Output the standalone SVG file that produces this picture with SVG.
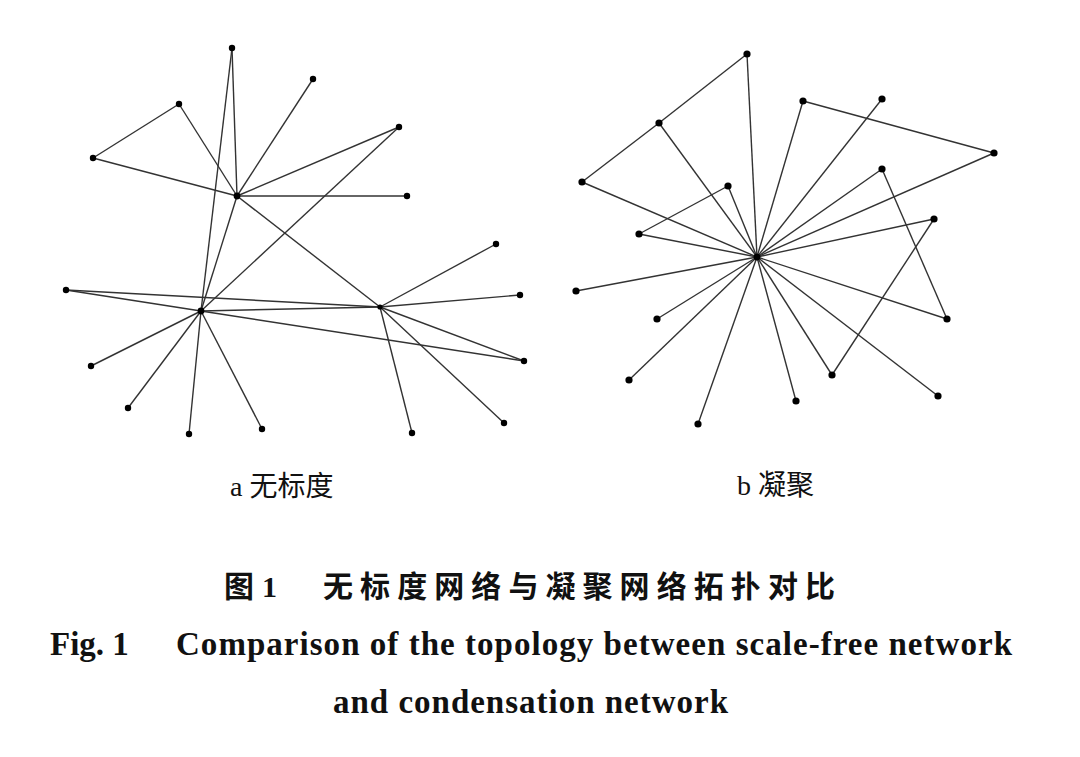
<svg xmlns="http://www.w3.org/2000/svg" width="1080" height="757" viewBox="0 0 1080 757">
<style>
.e{stroke:#333;stroke-width:1.4;fill:none}
.n{fill:#000}
.lab{font-family:"Liberation Serif","Noto Sans CJK SC",serif;font-size:28px;fill:#111}
.cn{font-family:"Noto Sans CJK SC",sans-serif;font-weight:bold;font-size:30px;fill:#111}
.en{font-family:"Liberation Serif",serif;font-weight:bold;font-size:33px;fill:#111}
</style>
<rect width="1080" height="757" fill="#fff"/>
<g id="connectors-a">
<line class="e" x1="179" y1="104" x2="93" y2="158"/>
<line class="e" x1="93" y1="158" x2="237" y2="196"/>
<line class="e" x1="179" y1="104" x2="237" y2="196"/>
<line class="e" x1="232" y1="48" x2="237" y2="196"/>
<line class="e" x1="232" y1="48" x2="201" y2="311"/>
<line class="e" x1="313" y1="79" x2="237" y2="196"/>
<line class="e" x1="399" y1="127" x2="237" y2="196"/>
<line class="e" x1="407" y1="196" x2="237" y2="196"/>
<line class="e" x1="237" y1="196" x2="201" y2="311"/>
<line class="e" x1="399" y1="127" x2="201" y2="311"/>
<line class="e" x1="237" y1="196" x2="380" y2="307"/>
<line class="e" x1="66" y1="290" x2="201" y2="311"/>
<line class="e" x1="66" y1="290" x2="380" y2="307"/>
<line class="e" x1="201" y1="311" x2="380" y2="307"/>
<line class="e" x1="201" y1="311" x2="524" y2="361"/>
<line class="e" x1="380" y1="307" x2="524" y2="361"/>
<line class="e" x1="380" y1="307" x2="496" y2="244"/>
<line class="e" x1="380" y1="307" x2="520" y2="295"/>
<line class="e" x1="380" y1="307" x2="412" y2="433"/>
<line class="e" x1="380" y1="307" x2="504" y2="423"/>
<line class="e" x1="201" y1="311" x2="91" y2="366"/>
<line class="e" x1="201" y1="311" x2="128" y2="408"/>
<line class="e" x1="201" y1="311" x2="189" y2="434"/>
<line class="e" x1="201" y1="311" x2="262" y2="429"/>
</g>
<g id="connectors-b">
<line class="e" x1="747" y1="54" x2="659" y2="123"/>
<line class="e" x1="659" y1="123" x2="582" y2="182"/>
<line class="e" x1="747" y1="54" x2="757" y2="257"/>
<line class="e" x1="659" y1="123" x2="757" y2="257"/>
<line class="e" x1="582" y1="182" x2="757" y2="257"/>
<line class="e" x1="728" y1="186" x2="639" y2="234"/>
<line class="e" x1="728" y1="186" x2="757" y2="257"/>
<line class="e" x1="639" y1="234" x2="757" y2="257"/>
<line class="e" x1="803" y1="101" x2="757" y2="257"/>
<line class="e" x1="803" y1="101" x2="994" y2="153"/>
<line class="e" x1="882" y1="99" x2="757" y2="257"/>
<line class="e" x1="994" y1="153" x2="757" y2="257"/>
<line class="e" x1="882" y1="169" x2="757" y2="257"/>
<line class="e" x1="882" y1="169" x2="947" y2="319"/>
<line class="e" x1="934" y1="219" x2="757" y2="257"/>
<line class="e" x1="934" y1="219" x2="832" y2="375"/>
<line class="e" x1="757" y1="257" x2="576" y2="291"/>
<line class="e" x1="757" y1="257" x2="657" y2="319"/>
<line class="e" x1="757" y1="257" x2="629" y2="380"/>
<line class="e" x1="757" y1="257" x2="698" y2="424"/>
<line class="e" x1="757" y1="257" x2="796" y2="401"/>
<line class="e" x1="757" y1="257" x2="832" y2="375"/>
<line class="e" x1="757" y1="257" x2="938" y2="396"/>
<line class="e" x1="757" y1="257" x2="947" y2="319"/>
</g>
<g id="nodes-a">
<circle id="a1" class="n" cx="232" cy="48" r="3.2"/>
<circle id="a2" class="n" cx="313" cy="79" r="3.2"/>
<circle id="a3" class="n" cx="179" cy="104" r="3.2"/>
<circle id="a4" class="n" cx="93" cy="158" r="3.2"/>
<circle id="a5" class="n" cx="237" cy="196" r="3.4"/>
<circle id="a6" class="n" cx="399" cy="127" r="3.2"/>
<circle id="a7" class="n" cx="407" cy="196" r="3.2"/>
<circle id="a8" class="n" cx="66" cy="290" r="3.2"/>
<circle id="a9" class="n" cx="201" cy="311" r="3.4"/>
<circle id="a10" class="n" cx="380" cy="307" r="2.6"/>
<circle id="a11" class="n" cx="496" cy="244" r="3.2"/>
<circle id="a12" class="n" cx="520" cy="295" r="3.2"/>
<circle id="a13" class="n" cx="524" cy="361" r="3.2"/>
<circle id="a14" class="n" cx="91" cy="366" r="3.2"/>
<circle id="a15" class="n" cx="128" cy="408" r="3.2"/>
<circle id="a16" class="n" cx="189" cy="434" r="3.2"/>
<circle id="a17" class="n" cx="262" cy="429" r="3.2"/>
<circle id="a18" class="n" cx="412" cy="433" r="3.2"/>
<circle id="a19" class="n" cx="504" cy="423" r="3.2"/>
</g>
<g id="nodes-b">
<circle id="b1" class="n" cx="747" cy="54" r="3.6"/>
<circle id="b2" class="n" cx="659" cy="123" r="3.6"/>
<circle id="b3" class="n" cx="582" cy="182" r="3.6"/>
<circle id="b4" class="n" cx="728" cy="186" r="3.6"/>
<circle id="b5" class="n" cx="639" cy="234" r="3.6"/>
<circle id="b6" class="n" cx="803" cy="101" r="3.6"/>
<circle id="b7" class="n" cx="882" cy="99" r="3.6"/>
<circle id="b8" class="n" cx="994" cy="153" r="3.6"/>
<circle id="b9" class="n" cx="882" cy="169" r="3.6"/>
<circle id="b10" class="n" cx="934" cy="219" r="3.6"/>
<circle id="b11" class="n" cx="757" cy="257" r="3.4"/>
<circle id="b12" class="n" cx="576" cy="291" r="3.6"/>
<circle id="b13" class="n" cx="657" cy="319" r="3.6"/>
<circle id="b14" class="n" cx="629" cy="380" r="3.6"/>
<circle id="b15" class="n" cx="698" cy="424" r="3.6"/>
<circle id="b16" class="n" cx="796" cy="401" r="3.6"/>
<circle id="b17" class="n" cx="832" cy="375" r="3.6"/>
<circle id="b18" class="n" cx="938" cy="396" r="3.6"/>
<circle id="b19" class="n" cx="947" cy="319" r="3.6"/>
</g>
<g id="labels">
<text class="lab" x="230" y="496">a 无标度</text>
<text class="lab" x="737" y="495">b 凝聚</text>
<text class="cn" x="224" y="597">图</text>
<text class="en" x="262" y="597" style="font-size:30px">1</text>
<text class="cn" x="323" y="597" textLength="512" lengthAdjust="spacing">无标度网络与凝聚网络拓扑对比</text>
<text class="en" x="50" y="655">Fig. 1</text>
<text class="en" x="176" y="655" textLength="836" lengthAdjust="spacing">Comparison of the topology between scale-free network</text>
<text class="en" x="333" y="713" textLength="395" lengthAdjust="spacing">and condensation network</text>
</g>
</svg>
